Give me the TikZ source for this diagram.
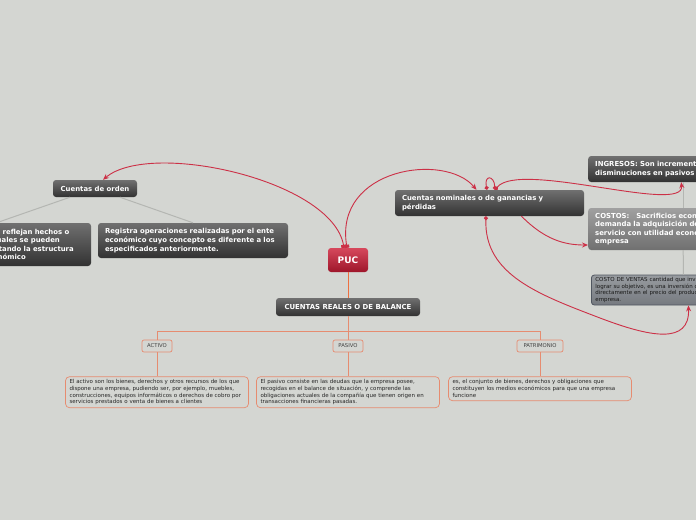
\documentclass[tikz,border=0pt]{standalone}
\usepackage{fontspec}
\setmainfont{DejaVu Sans}
\usetikzlibrary{arrows.meta, positioning}

\definecolor{fondo}{RGB}{212,214,210}
\definecolor{oscuroA}{RGB}{112,112,112}
\definecolor{oscuroB}{RGB}{50,50,50}
\definecolor{grisA}{RGB}{160,160,160}
\definecolor{grisB}{RGB}{112,112,112}
\definecolor{rojoA}{RGB}{214,72,92}
\definecolor{rojoB}{RGB}{158,22,42}
\definecolor{naranja}{RGB}{230,140,112}
\definecolor{naranjaF}{RGB}{238,112,64}
\definecolor{enlace}{RGB}{204,48,70}
\definecolor{rama}{RGB}{180,182,178}
\definecolor{azulgris}{RGB}{80,86,96}
\definecolor{ventasA}{RGB}{152,156,160}
\definecolor{ventasB}{RGB}{118,122,128}

\begin{document}
\begin{tikzpicture}[x=1pt, y=-1pt, >=Stealth, node distance=24pt,
    oscuro/.style={rounded corners=3pt, top color=oscuroA, bottom color=oscuroB, text=white,
      font=\fontsize{6.9}{8.6}\selectfont\bfseries, align=left, inner xsep=7pt, inner ysep=0pt},
    gris/.style={oscuro, top color=grisA, bottom color=grisB},
    ventas/.style={rounded corners=3pt, draw=azulgris, line width=0.8pt, top color=ventasA, bottom color=ventasB,
      text=black!90, font=\fontsize{5.5}{6.8}\selectfont, align=left, inner xsep=4pt, inner ysep=0pt},
    puc/.style={rounded corners=3pt, top color=rojoA, bottom color=rojoB, text=white,
      font=\fontsize{9}{10}\selectfont\bfseries, inner sep=0pt},
    etiqueta/.style={draw=naranja, line width=0.7pt, fill=fondo, rounded corners=2pt, text=black!75,
      font=\fontsize{5.3}{6}\selectfont, inner xsep=2pt, inner ysep=0pt, minimum height=12pt},
    desc/.style={draw=naranja, line width=0.7pt, rounded corners=4pt, text=black!85,
      font=\fontsize{5.5}{6.8}\selectfont, align=left, inner xsep=4pt, inner ysep=0pt},
    rama/.style={draw=rama, line width=1pt},
    arbol/.style={draw=naranja, line width=0.7pt},
    enlace/.style={draw=enlace, line width=0.9pt}]

    \useasboundingbox (0,0) rectangle (696,520);
    \clip (0,0) rectangle (696,520);
    \fill[fondo] (0,0) rectangle (696,520);

    \node[oscuro, minimum width=84pt, minimum height=17pt] (orden) at (95,188.5) {Cuentas de orden};
    \node[oscuro, text width=175pt, minimum height=43pt] (ordenizq) at (-3.5,244.5)
      {Agrupa las cuentas que reflejan hechos o\\ circunstancias de las cuales se pueden\\ generar derechos, afectando la estructura\\ financiera del ente económico};
    \node[oscuro, text width=176pt, minimum height=35pt] (registra) at (193,240.5)
      {Registra operaciones realizadas por el ente\\ económico cuyo concepto es diferente a los\\ especificados anteriormente.};

    \node[puc, minimum width=40pt, minimum height=24pt] (puc) at (348,260) {PUC};
    \node[oscuro, minimum width=144pt, minimum height=18pt] (reales) at (348,307) {CUENTAS REALES O DE BALANCE};
    \coordinate (reparto) at (348,331);

    \node[etiqueta, minimum width=30pt] (activo) at (157,346) {ACTIVO};
    \node[etiqueta, minimum width=30pt] (pasivo) at (348,346) {PASIVO};
    \node[etiqueta, minimum width=46pt] (patrimonio) at (540,346) {PATRIMONIO};

    \node[desc, below=24pt of activo, text width=175pt, minimum height=31pt] (activotxt)
      {El activo son los bienes, derechos y otros recursos de los que\\ dispone una empresa, pudiendo ser, por ejemplo, muebles,\\ construcciones, equipos informáticos o derechos de cobro por\\ servicios prestados o venta de bienes a clientes};
    \node[desc, below=24pt of pasivo, text width=175pt, minimum height=31pt] (pasivotxt)
      {El pasivo consiste en las deudas que la empresa posee,\\ recogidas en el balance de situación, y comprende las\\ obligaciones actuales de la compañía que tienen origen en\\ transacciones financieras pasadas.};
    \node[desc, below=24pt of patrimonio, text width=175pt, minimum height=24pt] (patrimoniotxt)
      {es, el conjunto de bienes, derechos y obligaciones que\\ constituyen los medios económicos para que una empresa\\ funcione};

    \node[oscuro, text width=175pt, minimum height=26pt] (nominales) at (489.5,203)
      {Cuentas nominales o de ganancias y\\ pérdidas};
    \node[oscuro, anchor=west, text width=190pt, minimum height=26pt] (ingresos) at (588,169)
      {INGRESOS: Son incrementos en los activos o\\ disminuciones en pasivos durante el periodo};
    \node[gris, anchor=west, text width=190pt, minimum height=42pt] (costos) at (588,229)
      {COSTOS:\ \ \ Sacrificios económicos que\\ demanda la adquisición de un bien o\\ servicio con utilidad económica para la\\ empresa};
    \node[ventas, anchor=west, text width=191pt, minimum height=30pt] (costoventas) at (591,290)
      {COSTO DE VENTAS cantidad que invierte la empresa para\\ lograr su objetivo, es una inversión que se refleja\\ directamente en el precio del producto que vende la\\ empresa.};

    \draw[rama] (orden) -- (ordenizq.north);
    \draw[rama] (orden) -- (registra.north);
    \draw[rama] ([xshift=-7pt]ingresos.south) -- ([xshift=-7pt]costos.north);
    \draw[rama] ([xshift=-7pt]costos.south) -- ([xshift=-7.5pt]costoventas.north);

    \draw[draw=naranjaF, line width=1pt] (puc) -- (reales);
    \draw[arbol] (reales) -- (reparto);
    \draw[arbol] (reparto) -| (activo);
    \draw[arbol] (reparto) -- (pasivo);
    \draw[arbol] (reparto) -| (patrimonio);
    \draw[arbol] (activo) -- (activotxt);
    \draw[arbol] (pasivo) -- (pasivotxt);
    \draw[arbol] (patrimonio) -- (patrimoniotxt);

    \draw[enlace, {Rectangle[length=3pt,width=5pt]}-{Stealth[length=6pt,width=5pt]}]
      ([xshift=-4pt]puc.north) .. controls (332,180) and (150,140) .. ([xshift=8pt]orden.north);
    \draw[enlace, {Rectangle[length=3pt,width=5pt]}-{Stealth[length=6pt,width=5pt]}]
      ([xshift=-1pt]puc.north) .. controls (334,168) and (445,152) .. ([xshift=-13pt]nominales.north);
    \draw[enlace, {Circle[length=4pt]}-{Circle[length=4pt]}]
      ([xshift=-2.5pt]nominales.north) .. controls (484,175) and (494,175) .. ([xshift=5.5pt]nominales.north);
    \draw[enlace, {Circle[length=4pt]}-{Stealth[length=6pt,width=5pt]}]
      ([xshift=5.5pt]nominales.north) .. controls (520,160) and (685,215) .. ([xshift=-9pt]ingresos.south);
    \draw[enlace, -{Stealth[length=6pt,width=5pt]}]
      ([xshift=32pt]nominales.south) .. controls (545,240) and (565,245) .. ([yshift=-16pt]costos.west);
    \draw[enlace, {Circle[length=4pt]}-{Stealth[length=6pt,width=5pt]}]
      ([xshift=-3.5pt]nominales.south) .. controls (484,275) and (540,295) .. (600,318)
      .. controls (650,337) and (690,345) .. ([xshift=-2.5pt]costoventas.south);
\end{tikzpicture}
\end{document}
